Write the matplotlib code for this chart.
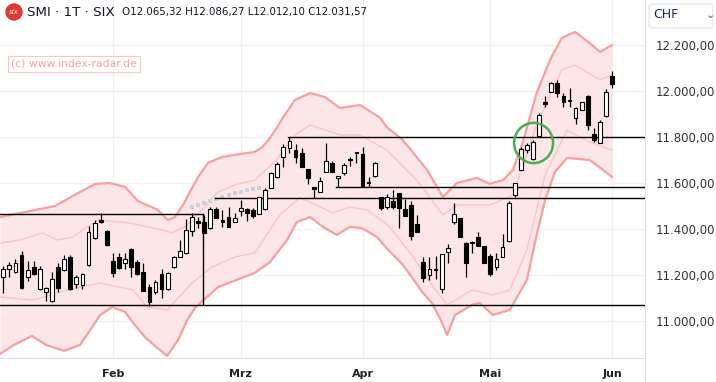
import numpy as np
import matplotlib
matplotlib.use("Agg")
import matplotlib.pyplot as plt
from matplotlib.patches import Ellipse, Circle, FancyBboxPatch
from matplotlib.lines import Line2D

# daily candles, 8 Jan .. 3 Jun
opens = [11191, 11226, 11213, 11287, 11191, 11235, 11139, 11126, 11087, 11235,
         11222, 11278, 11161, 11157, 11243, 11361, 11439, 11391, 11261, 11278,
         11252, 11313, 11256, 11213, 11148, 11126, 11204, 11139, 11235, 11278,
         11296, 11391, 11435, 11431, 11404, 11487, 11435, 11452, 11431, 11478,
         11487, 11483, 11465, 11487, 11578, 11626, 11713, 11752, 11743, 11730,
         11661, 11583, 11561, 11648, 11687, 11622, 11644, 11704, 11730, 11726,
         11604, 11630, 11539, 11496, 11522, 11557, 11487, 11504, 11422, 11256,
         11200, 11222, 11139, 11300, 11431, 11448, 11339, 11339, 11365, 11326,
         11283, 11235, 11278, 11348, 11548, 11657, 11743, 11704, 11804, 11952,
         11996, 12035, 11978, 11956, 11883, 11917, 11978, 11813, 11774, 11891,
         12065.32]
highs = [11239, 11256, 11270, 11304, 11261, 11261, 11239, 11148, 11213, 11252,
         11287, 11287, 11200, 11209, 11413, 11439, 11470, 11396, 11296, 11296,
         11296, 11317, 11265, 11252, 11161, 11178, 11226, 11213, 11283, 11352,
         11444, 11470, 11452, 11461, 11496, 11496, 11483, 11496, 11470, 11526,
         11491, 11491, 11539, 11578, 11648, 11691, 11770, 11800, 11770, 11752,
         11661, 11583, 11626, 11774, 11696, 11630, 11687, 11713, 11735, 11757,
         11626, 11691, 11539, 11552, 11570, 11557, 11530, 11522, 11461, 11278,
         11278, 11283, 11291, 11335, 11513, 11448, 11343, 11348, 11387, 11326,
         11291, 11296, 11378, 11522, 11600, 11757, 11774, 11787, 11904, 11978,
         12039, 12048, 11991, 12013, 11930, 11952, 11983, 11839, 11874, 12009,
         12086.27]
lows = [11122, 11191, 11209, 11140, 11174, 11200, 11135, 11087, 11083, 11126,
        11218, 11135, 11144, 11139, 11239, 11357, 11426, 11326, 11191, 11226,
        11226, 11191, 11200, 11130, 11065, 11117, 11100, 11135, 11230, 11278,
        11291, 11370, 11404, 11383, 11400, 11448, 11409, 11409, 11431, 11457,
        11435, 11448, 11465, 11483, 11578, 11622, 11670, 11730, 11687, 11670,
        11596, 11535, 11561, 11648, 11648, 11583, 11635, 11674, 11687, 11583,
        11583, 11626, 11483, 11487, 11487, 11404, 11457, 11352, 11387, 11170,
        11178, 11183, 11122, 11252, 11422, 11365, 11191, 11296, 11326, 11252,
        11196, 11222, 11278, 11343, 11539, 11657, 11730, 11700, 11800, 11930,
        11996, 11974, 11930, 11930, 11857, 11917, 11830, 11778, 11774, 11887,
        12012.10]
closes = [11226, 11243, 11252, 11144, 11222, 11204, 11226, 11144, 11183, 11144,
          11270, 11139, 11191, 11204, 11387, 11426, 11431, 11330, 11209, 11231,
          11270, 11235, 11204, 11131, 11083, 11170, 11139, 11209, 11278, 11304,
          11396, 11452, 11426, 11383, 11487, 11448, 11431, 11409, 11448, 11491,
          11470, 11457, 11539, 11570, 11644, 11683, 11757, 11783, 11713, 11670,
          11622, 11574, 11609, 11696, 11648, 11630, 11678, 11700, 11730, 11587,
          11600, 11687, 11491, 11539, 11496, 11491, 11457, 11370, 11387, 11187,
          11226, 11226, 11291, 11317, 11465, 11365, 11252, 11343, 11326, 11252,
          11204, 11270, 11322, 11513, 11600, 11748, 11765, 11778, 11896, 11943,
          12035, 11991, 11952, 11956, 11926, 11952, 11852, 11787, 11865, 11996,
          12031.57]

# band envelope (candle index, price)
upper_outer_x = [-0.54, 4.4, 8.5, 12.6, 15.1, 17.5, 20.0, 22.1, 25.4, 27.0, 28.2, 29.5, 31.0,
                 32.0, 33.6, 35.9, 38.9, 41.3, 42.6, 43.8, 44.9, 45.9, 47.9, 50.4, 52.8,
                 55.3, 58.6, 61.9, 63.0, 65.6, 67.9, 69.6, 72.2, 74.5, 77.8, 79.9, 82.1,
                 83.7, 85.3, 87.6, 89.8, 91.7, 93.9, 96.3, 98.0, 100.0]
upper_outer = [11452, 11478, 11500, 11561, 11596, 11600, 11583, 11522, 11483, 11439, 11452,
               11504, 11578, 11626, 11687, 11713, 11726, 11735, 11757, 11796, 11839, 11883,
               11961, 11991, 11974, 11926, 11939, 11883, 11843, 11787, 11713, 11657, 11539,
               11600, 11622, 11596, 11613, 11657, 11774, 11991, 12135, 12230, 12257, 12209,
               12170, 12200]
lower_outer_x = [-0.54, 1.8, 4.7, 7.0, 10.0, 12.6, 14.4, 15.9, 17.9, 20.0, 21.6, 23.4, 26.9,
                 28.7, 30.2, 31.5, 35.3, 41.3, 43.8, 46.6, 48.2, 50.4, 52.5, 54.8, 56.9,
                 58.9, 61.4, 63.2, 65.5, 67.1, 68.8, 70.4, 71.7, 72.9, 74.2, 77.0, 78.3,
                 80.4, 83.2, 86.0, 87.6, 89.0, 90.6, 92.6, 96.3, 98.5, 100.0]
lower_outer = [10857, 10896, 10935, 10896, 10870, 10896, 10965, 11026, 11061, 11039, 10983,
               10926, 10848, 10917, 11004, 11057, 11148, 11209, 11256, 11352, 11430, 11452,
               11409, 11374, 11409, 11404, 11365, 11309, 11248, 11191, 11126, 11078, 11013,
               10939, 11026, 11070, 11078, 11026, 11048, 11178, 11374, 11526, 11648, 11709,
               11700, 11657, 11626]
upper_inner_x = [-0.54, 2.7, 6.5, 8.8, 11.4, 15.4, 20.8, 26.1, 27.7, 29.8, 32.6, 35.3, 38.0,
                 41.3, 44.9, 47.9, 50.4, 55.3, 58.6, 63.0, 67.9, 72.2, 74.5, 79.9, 83.7,
                 87.6, 91.7, 93.9, 98.0, 100.0]
upper_inner = [11339, 11352, 11383, 11352, 11365, 11439, 11426, 11396, 11383, 11409, 11483,
               11561, 11591, 11613, 11700, 11809, 11852, 11809, 11809, 11743, 11613, 11461,
               11504, 11504, 11548, 11852, 12091, 12113, 12048, 12070]
lower_inner_x = [-0.54, 4.9, 10.5, 15.9, 21.3, 23.6, 26.9, 31.0, 34.3, 38.0, 41.3, 45.4,
                 48.7, 51.5, 54.1, 56.9, 59.7, 63.2, 67.1, 70.4, 72.9, 77.0, 80.4, 83.2,
                 86.0, 89.0, 92.6, 96.3, 100.0]
lower_inner = [11104, 11091, 11135, 11165, 11135, 11061, 11048, 11165, 11235, 11278, 11296,
               11461, 11535, 11504, 11470, 11496, 11483, 11417, 11287, 11157, 11070, 11135,
               11113, 11135, 11309, 11635, 11830, 11778, 11743]

# grey dots (hidden indicator)
dots_x = [31, 32, 33, 34, 35, 36, 37, 38, 39, 40, 41, 42]
dots_y = [11496, 11505, 11513, 11522, 11530, 11540, 11548, 11555, 11562, 11568, 11574, 11580]

# drawn levels: (price, start index, end index)
levels = [(11465, -1, 32.8), (11069, -1, 106), (11800, 46.8, 106),
          (11583, 54.7, 106), (11535, 34.8, 106)]

price_ticks = [11000, 11200, 11400, 11600, 11800, 12000, 12200]
month_labels = ["Feb", "Mrz", "Apr", "Mai", "Jun"]
month_pos = [18, 39, 59, 80, 100]

n = len(closes)
idx = np.arange(n)
o = np.array(opens); c = np.array(closes); h = np.array(highs); l = np.array(lows)

fig = plt.figure(figsize=(7.16, 3.82), dpi=100)
ax = fig.add_axes([0, 24 / 382, 645 / 716, 358 / 382])
ax.set_xlim(-0.54, 105.4)
ax.set_ylim(10839, 12395.7)

for p in price_ticks:
    ax.axhline(p, color="#f0f0f0", lw=0.8, zorder=0)
for m in month_pos:
    ax.axvline(m, color="#f0f0f0", lw=0.8, zorder=0)

# bands
xx = np.linspace(-0.54, 100, 400)
uo = np.interp(xx, upper_outer_x, upper_outer)
lo = np.interp(xx, lower_outer_x, lower_outer)
ax.fill_between(xx, lo, uo, color="#fde6e8", lw=0, zorder=1)
ax.plot(upper_outer_x, upper_outer, color="#f6a0a0", lw=1.6, zorder=2)
ax.plot(lower_outer_x, lower_outer, color="#f6a0a0", lw=1.6, zorder=2)
ax.plot(upper_inner_x, upper_inner, color="#f8c6c8", lw=1.0, zorder=2)
ax.plot(lower_inner_x, lower_inner, color="#f8c6c8", lw=1.0, zorder=2)

ax.scatter(dots_x, dots_y, marker="s", s=5, color="#c9d1dc", zorder=2, lw=0)

for price, x0, x1 in levels:
    ax.plot([x0, x1], [price, price], color="black", lw=1.0, zorder=3)
ax.plot([32.8, 32.8], [11069, 11465], color="black", lw=1.0, zorder=3)

# candles
up = c >= o
ax.vlines(idx, l, h, color="black", lw=0.9, zorder=4)
bottom = np.minimum(o, c)
height = np.maximum(np.abs(c - o), 6)
ax.bar(idx[up], height[up], bottom=bottom[up], width=0.62, color="white",
       edgecolor="black", lw=0.8, zorder=5)
ax.bar(idx[~up], height[~up], bottom=bottom[~up], width=0.62, color="black",
       edgecolor="black", lw=0.8, zorder=5)

ax.add_patch(Ellipse((87.1, 11774), 6.4, 175, fill=False, edgecolor="#4caf50", lw=1.8, zorder=6))

ax.yaxis.tick_right()
ax.set_yticks(price_ticks)
ax.set_yticklabels([f"{p:,.2f}".replace(",", "X").replace(".", ",").replace("X", ".")
                    for p in price_ticks], fontsize=8.5, color="#333333")
ax.tick_params(axis="y", length=0, pad=8)
ax.set_xticks(month_pos)
ax.set_xticklabels(month_labels, fontsize=8, color="#222222", fontweight="bold")
ax.tick_params(axis="x", length=0, pad=8)
for s in ["top", "left"]:
    ax.spines[s].set_visible(False)
ax.spines["bottom"].set_color("#e0e0e0")
ax.spines["right"].set_color("#e0e0e0")
fig.lines.append(Line2D([645 / 716, 645 / 716], [0, 24 / 382], color="#e0e0e0", lw=0.8,
                        transform=fig.transFigure))

# header
fig.patches.append(Circle((14, 382 - 12), 8, transform=None, color="#e03a2f", figure=fig))
fig.text(14 / 716, 1 - 12 / 382, "six", color="white", fontsize=5, ha="center", va="center",
         style="italic")
fig.text(27 / 716, 1 - 12 / 382, "SMI · 1T · SIX", fontsize=9.6, color="#131722", va="center")
fig.text(122 / 716, 1 - 12 / 382, "O12.065,32 H12.086,27 L12.012,10 C12.031,57",
         fontsize=7.4, color="#131722", va="center")
fig.text(11 / 716, 1 - 64 / 382, "(c) www.index-radar.de", fontsize=7.8, color="#ff9da0",
         va="center", bbox=dict(boxstyle="square,pad=0.25", fc="none", ec="#ffc4c4", lw=0.8))
fig.patches.append(FancyBboxPatch((649, 382 - 28), 64, 24, boxstyle="round,pad=0,rounding_size=3",
                                  transform=None, fc="white", ec="#e0e3eb", lw=0.8, figure=fig))
fig.text(653 / 716, 1 - 15 / 382, "CHF", fontsize=9, color="#1e2b5c", va="center")
fig.text(710 / 716, 1 - 15 / 382, "⌄", fontsize=8, color="#555555", va="center", ha="center")

fig.savefig("out.png", dpi=100)
